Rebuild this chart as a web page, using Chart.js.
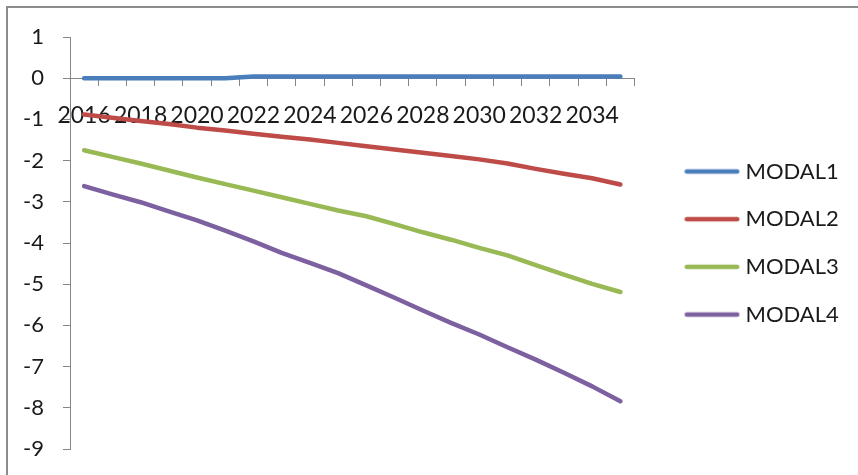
<!DOCTYPE html>
<html lang="en">
<head>
    <meta charset="UTF-8">
    <title>MODAL chart</title>
    <script src="https://cdn.jsdelivr.net/npm/chart.js"></script>
    <style>
        body { margin: 0; background: #fff; }
        #frame { position: absolute; left: 6px; top: 6px; width: 900px; height: 500px; border: 2px solid #8c8c8c; }
        #chart { position: absolute; left: 0; top: 0; }
    </style>
</head>
<body>
    <div id="frame"></div>
    <canvas id="chart" width="858" height="475"></canvas>
    <script>
        // years on the category axis, only every second one gets a label
        const years = ['2016','2017','2018','2019','2020','2021','2022','2023','2024','2025',
                       '2026','2027','2028','2029','2030','2031','2032','2033','2034','2035'];

        const modal1 = [0, 0, 0, 0, 0, 0, 0.04, 0.04, 0.04, 0.04,
                        0.04, 0.04, 0.04, 0.04, 0.04, 0.04, 0.04, 0.04, 0.04, 0.04];
        const modal2 = [-0.88, -0.96, -1.04, -1.11, -1.2, -1.27, -1.35, -1.42, -1.49, -1.57,
                        -1.65, -1.73, -1.81, -1.89, -1.97, -2.07, -2.2, -2.32, -2.43, -2.58];
        const modal3 = [-1.75, -1.91, -2.07, -2.24, -2.41, -2.57, -2.73, -2.89, -3.05, -3.21,
                        -3.35, -3.54, -3.74, -3.92, -4.12, -4.3, -4.54, -4.77, -4.99, -5.19];
        const modal4 = [-2.62, -2.82, -3.01, -3.23, -3.45, -3.7, -3.96, -4.24, -4.48, -4.73,
                        -5.03, -5.33, -5.64, -5.94, -6.22, -6.53, -6.83, -7.15, -7.48, -7.84];

        const axisGray = '#868686';

        // legend swatch: a short thick line with some empty room on its left
        function swatch(color) {
            const c = document.createElement('canvas');
            c.width = 90;
            c.height = 8;
            const g = c.getContext('2d');
            g.strokeStyle = color;
            g.lineWidth = 4.5;
            g.lineCap = 'round';
            g.beginPath();
            g.moveTo(34.4, 4);
            g.lineTo(84.9, 4);
            g.stroke();
            return c;
        }

        function series(label, data, color) {
            return {
                label: label,
                data: data,
                borderColor: color,
                backgroundColor: color,
                borderWidth: 4.5,
                borderCapStyle: 'round',
                borderJoinStyle: 'round',
                pointRadius: 0,
                pointStyle: swatch(color),
                tension: 0,
                fill: false
            };
        }

        new Chart(document.getElementById('chart'), {
            type: 'line',
            data: {
                labels: years,
                datasets: [
                    series('MODAL1', modal1, '#4a7ebb'),
                    series('MODAL2', modal2, '#be4b48'),
                    series('MODAL3', modal3, '#98b954'),
                    series('MODAL4', modal4, '#7d60a0')
                ]
            },
            options: {
                responsive: false,
                animation: false,
                layout: { padding: { top: 37, bottom: 26, left: 0, right: 12 } },
                plugins: {
                    tooltip: { enabled: false },
                    legend: {
                        position: 'right',
                        labels: {
                            usePointStyle: true,
                            pointStyleWidth: 74.3,
                            padding: 25.7,
                            color: '#1a1a1a',
                            font: { family: 'Lato', size: 22 }
                        }
                    }
                },
                scales: {
                    x: {
                        type: 'category',
                        position: { y: 0 },
                        offset: true,
                        grid: { drawOnChartArea: false, drawTicks: true, tickLength: 7, offset: true, color: axisGray },
                        border: { display: true, color: axisGray },
                        ticks: {
                            autoSkip: false,
                            maxRotation: 0,
                            minRotation: 0,
                            padding: 17,
                            color: '#1a1a1a',
                            font: { family: 'Lato', size: 23 },
                            callback: (v, i) => (i % 2 === 0 ? years[i] : '')
                        }
                    },
                    y: {
                        min: -9,
                        max: 1,
                        afterFit(scale) {
                            scale.width = 70;
                            // tick padding would otherwise push the plot bottom up
                            scale.paddingTop = 10;
                            scale.paddingBottom = 10;
                        },
                        grid: { drawOnChartArea: false, drawTicks: true, tickLength: 7, color: axisGray },
                        border: { display: true, color: axisGray },
                        ticks: { stepSize: 1, padding: 19, color: '#1a1a1a', font: { family: 'Lato', size: 22 } }
                    }
                }
            }
        });
    </script>
</body>
</html>
